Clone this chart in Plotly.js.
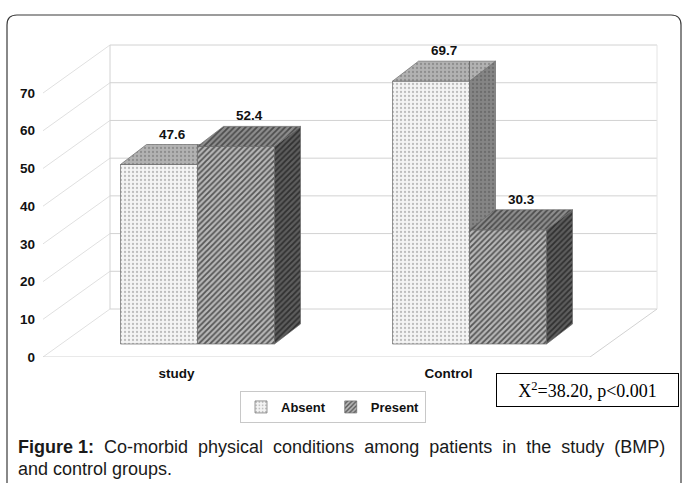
<!DOCTYPE html>
<html><head><meta charset="utf-8">
<script src="https://cdn.plot.ly/plotly-3.0.1.min.js"></script>
<style>html,body{margin:0;padding:0;background:#fff;} #chart{width:683px;height:483px;}</style>
</head><body><div id="chart"></div>
<script>
// ---------- data ----------
const categories = ['study', 'Control'];
const seriesNames = ['Absent', 'Present'];
const absentValues = [47.6, 69.7];
const presentValues = [52.4, 30.3];
const yTickValues = [0, 10, 20, 30, 40, 50, 60, 70];
const statText = 'X<sup>2</sup>=38.20, p&lt;0.001';
const captionBold = 'Figure 1:';
const captionLine1 = 'Co-morbid physical conditions among patients in the study (BMP)';
const captionLine2 = 'and control groups.';

// ---------- geometry ----------
const W = 683, H = 483, mL = 43, mR = 20, mT = 30, mB = 126;
const plotW = W - mL - mR, plotH = H - mT - mB;
const pxPerUnit = 3.771;
const yMax = plotH / pxPerUnit;
const u = p => p / pxPerUnit;
const wallDx = 67, wallDy = u(48);
const barFloorDy = u(13);
const barDepthDx = 26, barDepthDy = u(20);
const barW = 77;
const firstGroup = 154.5, groupGap = 272;
const floorRight = 547;
const X = px => (px - mL) / plotW;
const Y = py => (H - mB - py) / plotH;

const groupCenters = categories.map((c, i) => firstGroup + i * groupGap);
const base = barFloorDy;

// ---------- helpers ----------
function clip(poly, axis, val, keepGreater) {
  const out = [];
  const inside = p => keepGreater ? p[axis] >= val - 1e-9 : p[axis] <= val + 1e-9;
  for (let i = 0; i < poly.length; i++) {
    const a = poly[i], b = poly[(i + 1) % poly.length];
    const ia = inside(a), ib = inside(b);
    if (ia) out.push(a);
    if (ia !== ib) {
      const t = (val - a[axis]) / (b[axis] - a[axis]);
      out.push([a[0] + t * (b[0] - a[0]), a[1] + t * (b[1] - a[1])]);
    }
  }
  return out;
}
function topFace(xl, v) {
  const xr = xl + barW, t = base + v;
  return [[xl, t], [xr, t], [xr + barDepthDx, t + barDepthDy], [xl + barDepthDx, t + barDepthDy]];
}
function sideFace(xl, v) {
  const xr = xl + barW, t = base + v;
  return [[xr, base], [xr + barDepthDx, base + barDepthDy], [xr + barDepthDx, t + barDepthDy], [xr, t]];
}
function polysToXY(polys) {
  const x = [], y = [];
  polys.forEach(p => {
    if (p.length < 3) return;
    p.forEach(q => { x.push(q[0]); y.push(q[1]); });
    x.push(p[0][0]); y.push(p[0][1]);
    x.push(null); y.push(null);
  });
  return {x, y};
}

const absentLeft = groupCenters.map(c => c - barW);
const presentLeft = groupCenters.map(c => c);

// Absent faces, clipped where the Present bar's front face hides them
const absentTopPolys = [], absentSidePolys = [];
absentValues.forEach((v, i) => {
  const xl = absentLeft[i], xr = xl + barW;
  const pTop = base + presentValues[i];
  const tf = topFace(xl, v);
  absentTopPolys.push(clip(tf, 0, xr, false));
  absentTopPolys.push(clip(clip(tf, 0, xr, true), 1, pTop, true));
  absentSidePolys.push(clip(sideFace(xl, v), 1, pTop, true));
});
const presentTopPolys = presentValues.map((v, i) => topFace(presentLeft[i], v));
const presentSidePolys = presentValues.map((v, i) => sideFace(presentLeft[i], v));

const edge = {color: '#6a6a6a', width: 0.7};
const pat = {
  absFront: {shape: '.', bgcolor: '#f4f4f4', fgcolor: '#bdbdbd', size: 4, solidity: 0.25},
  absTop: {shape: '.', bgcolor: '#b2b2b2', fgcolor: '#8e8e8e', size: 4, solidity: 0.25},
  absSide: {shape: '.', bgcolor: '#858585', fgcolor: '#6c6c6c', size: 4, solidity: 0.25},
  preFront: {shape: '/', bgcolor: '#b8b8b8', fgcolor: '#555555', size: 4, solidity: 0.45},
  preTop: {shape: '/', bgcolor: '#8e8e8e', fgcolor: '#4c4c4c', size: 4, solidity: 0.45},
  preSide: {shape: '/', bgcolor: '#5e5e5e', fgcolor: '#303030', size: 4, solidity: 0.45}
};
function faceTrace(polys, p) {
  const xy = polysToXY(polys);
  return {type: 'scatter', mode: 'lines', x: xy.x, y: xy.y, fill: 'toself',
    fillcolor: p.bgcolor, fillpattern: p, line: edge, showlegend: false, hoverinfo: 'skip'};
}

const traces = [
  {type: 'bar', name: seriesNames[0], x: absentLeft.map(x => x + barW / 2), y: absentValues,
   base: base, width: barW, marker: {color: pat.absFront.bgcolor, pattern: pat.absFront, line: edge}, hoverinfo: 'skip'},
  {type: 'bar', name: seriesNames[1], x: presentLeft.map(x => x + barW / 2), y: presentValues,
   base: base, width: barW, marker: {color: pat.preFront.bgcolor, pattern: pat.preFront, line: edge}, hoverinfo: 'skip'},
  faceTrace(absentSidePolys, pat.absSide),
  faceTrace(absentTopPolys, pat.absTop),
  faceTrace(presentSidePolys, pat.preSide),
  faceTrace(presentTopPolys, pat.preTop)
];

// ---------- walls ----------
const gridColor = '#d2d2d2';
const shapes = [];
const line = (x0, y0, x1, y1, c) => shapes.push({type: 'line', xref: 'x', yref: 'y', x0, y0, x1, y1, layer: 'below', line: {color: c || gridColor, width: 1}});
yTickValues.forEach(v => {
  line(wallDx, v + wallDy, floorRight + wallDx, v + wallDy);
  line(0, v, wallDx, v + wallDy, '#e0e0e0');
});
const topV = yTickValues[yTickValues.length - 1];
line(wallDx, wallDy, wallDx, topV + wallDy);
line(floorRight + wallDx, wallDy, floorRight + wallDx, topV + wallDy, '#e4e4e4');
line(0, 0, floorRight, 0);
line(floorRight, 0, floorRight + wallDx, wallDy);

// outer rounded frame
shapes.push({type: 'path', xref: 'paper', yref: 'paper', layer: 'above',
  path: `M ${X(7)},${Y(500)} L ${X(7)},${Y(25)} Q ${X(7)},${Y(15)} ${X(17)},${Y(15)} L ${X(671)},${Y(15)} Q ${X(681)},${Y(15)} ${X(681)},${Y(25)} L ${X(681)},${Y(500)}`,
  line: {color: '#3a3a3a', width: 1.2}});

// ---------- annotations ----------
const boldFont = {family: 'Liberation Sans, Arial, sans-serif', size: 13, color: '#111', weight: 'bold'};
const tickFont = Object.assign({}, boldFont, {size: 13.5});
const annotations = [];
absentValues.forEach((v, i) => annotations.push({x: absentLeft[i] + barW / 2 + barDepthDx / 2, y: base + v + barDepthDy,
  xref: 'x', yref: 'y', text: v.toFixed(1), showarrow: false, yanchor: 'bottom', yshift: 1, font: tickFont}));
presentValues.forEach((v, i) => annotations.push({x: presentLeft[i] + barW / 2 + barDepthDx / 2, y: base + v + barDepthDy,
  xref: 'x', yref: 'y', text: v.toFixed(1), showarrow: false, yanchor: 'bottom', yshift: 1, font: tickFont}));

annotations.push({xref: 'paper', yref: 'paper', x: X(587.5), y: Y(390), xanchor: 'center', yanchor: 'middle',
  text: statText, showarrow: false,
  font: {family: 'Liberation Serif, Times New Roman, serif', size: 18, color: '#000'},
  bordercolor: '#000', borderwidth: 1, borderpad: 3, width: 175, height: 26, bgcolor: '#fff'});

const justify = s => s.split(' ').join(' &nbsp;');
annotations.push({xref: 'paper', yref: 'paper', x: X(16), y: Y(447), xanchor: 'left', yanchor: 'middle', align: 'left',
  text: '<b>' + captionBold + '</b> &nbsp;' + justify(captionLine1), showarrow: false,
  font: {family: 'Liberation Sans, Arial, sans-serif', size: 18, color: '#1a1a1a'}});
annotations.push({xref: 'paper', yref: 'paper', x: X(16), y: Y(469), xanchor: 'left', yanchor: 'middle', align: 'left',
  text: captionLine2, showarrow: false,
  font: {family: 'Liberation Sans, Arial, sans-serif', size: 18, color: '#1a1a1a'}});

const layout = {
  width: W, height: H,
  margin: {l: mL, r: mR, t: mT, b: mB, pad: 0},
  paper_bgcolor: '#fff', plot_bgcolor: 'rgba(0,0,0,0)',
  barmode: 'overlay', hovermode: false,
  xaxis: {range: [0, plotW], showgrid: false, zeroline: false, showline: false, ticks: '',
    tickvals: groupCenters.map(c => c - 21), ticktext: categories, tickfont: tickFont, ticklabelstandoff: 6, fixedrange: true},
  yaxis: {range: [0, yMax], showgrid: false, zeroline: false, showline: false, ticks: '',
    tickvals: yTickValues, ticktext: yTickValues.map(String), tickfont: tickFont, ticklabelstandoff: 7, fixedrange: true},
  showlegend: true,
  legend: {orientation: 'h', x: X(333), xanchor: 'center', y: Y(407), yanchor: 'middle',
    bordercolor: '#c8c8c8', borderwidth: 1, font: boldFont, itemwidth: 30, tracegroupgap: 0},
  shapes, annotations
};
Plotly.newPlot('chart', traces, layout, {displayModeBar: false, staticPlot: true});
</script>
</body></html>
